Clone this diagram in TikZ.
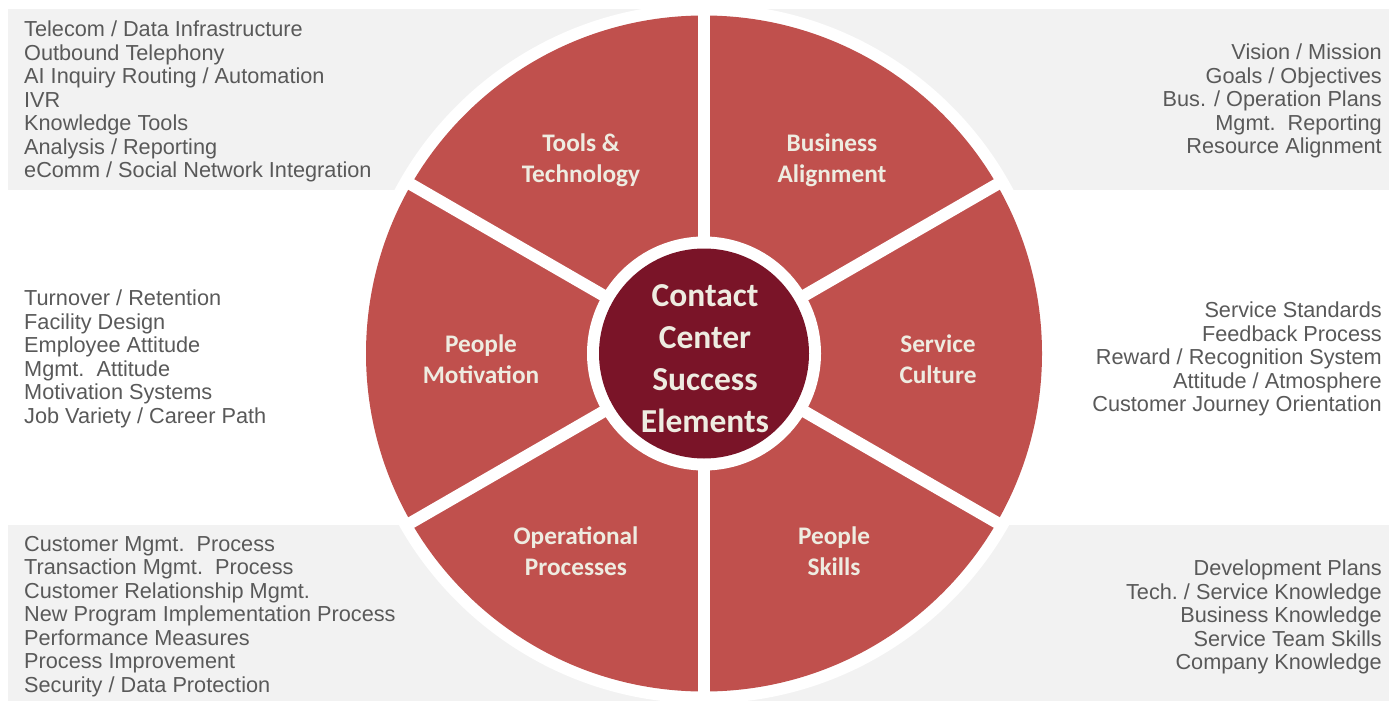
\documentclass[tikz,border=0pt]{standalone}
\usepackage{fontspec}
\setmainfont{Liberation Sans}
\newfontfamily\calfont{Carlito}
\definecolor{segred}{HTML}{C0504D}
\definecolor{hubred}{HTML}{7A1428}
\definecolor{bandgrey}{HTML}{F2F2F2}
\definecolor{listgrey}{HTML}{595959}
\definecolor{cream}{HTML}{EEECE1}
\begin{document}
\begin{tikzpicture}[x=1pt,y=-1pt,
  listL/.style={inner sep=0pt, align=left, text=listgrey, font=\fontsize{21.7}{23.5}\selectfont},
  listR/.style={inner sep=0pt, align=right, text=listgrey, font=\fontsize{21.7}{23.5}\selectfont},
  seglabel/.style={inner sep=0pt, align=center, text=cream, font=\calfont\bfseries\fontsize{25.3}{31}\selectfont},
  hublabel/.style={inner sep=0pt, align=center, text=cream, font=\calfont\bfseries\fontsize{33.5}{42}\selectfont}]
\useasboundingbox (0,0) rectangle (1389,701);
\fill[white] (0,0) rectangle (1389,701);
% grey bands
\fill[bandgrey] (8,9) rectangle (1389,190);
\fill[bandgrey] (8,525) rectangle (1389,701);
% wheel
\coordinate (C) at (704,353.5);
\fill[white] (C) circle[radius=350];
\fill[segred] (C) circle[radius=338];
\foreach \a in {30,90,150}{
  \draw[white, line width=12pt] (C) ++(\a:345) -- ++(\a+180:690);
}
\fill[white] (C) circle[radius=117];
\fill[hubred] (C) circle[radius=105];
% segment labels
\node[seglabel] (tools) at (581,160) {Tools \&\\Technology};
\node[seglabel] (busi) at (832,160) {Business\\Alignment};
\node[seglabel] (motiv) at (481,359) {People\\Motivation};
\node[seglabel] (serv) at (938,359) {Service\\Culture};
\node[seglabel] (oper) at (576,551) {Operational\\Processes};
\node[seglabel] (skills) at (834,551) {People\\Skills};
\node[hublabel] (hub) at (705,359) {Contact\\Center\\Success\\Elements};
% lists
\node[listL, anchor=north west] (ltools) at (24,21) {Telecom / Data Infrastructure\\Outbound Telephony\\AI Inquiry Routing / Automation\\IVR\\Knowledge Tools\\Analysis / Reporting\\eComm / Social Network Integration};
\node[listL, anchor=north west] (lmotiv) at (24,290) {Turnover / Retention\\Facility Design\\Employee Attitude\\Mgmt.\ \ Attitude\\Motivation Systems\\Job Variety / Career Path};
\node[listL, anchor=north west] (loper) at (24,536) {Customer Mgmt.\ \ Process\\Transaction Mgmt.\ \ Process\\Customer Relationship Mgmt.\\New Program Implementation Process\\Performance Measures\\Process Improvement\\Security / Data Protection};
\node[listR, anchor=north east] (lbusi) at (1382,44) {Vision / Mission\\Goals / Objectives\\Bus. / Operation Plans\\Mgmt.\ \ Reporting\\Resource Alignment};
\node[listR, anchor=north east] (lserv) at (1382,302) {Service Standards\\Feedback Process\\Reward / Recognition System\\Attitude / Atmosphere\\Customer Journey Orientation};
\node[listR, anchor=north east] (lskills) at (1382,560) {Development Plans\\Tech.\ / Service Knowledge\\Business Knowledge\\Service Team Skills\\Company Knowledge};
\end{tikzpicture}
\end{document}
